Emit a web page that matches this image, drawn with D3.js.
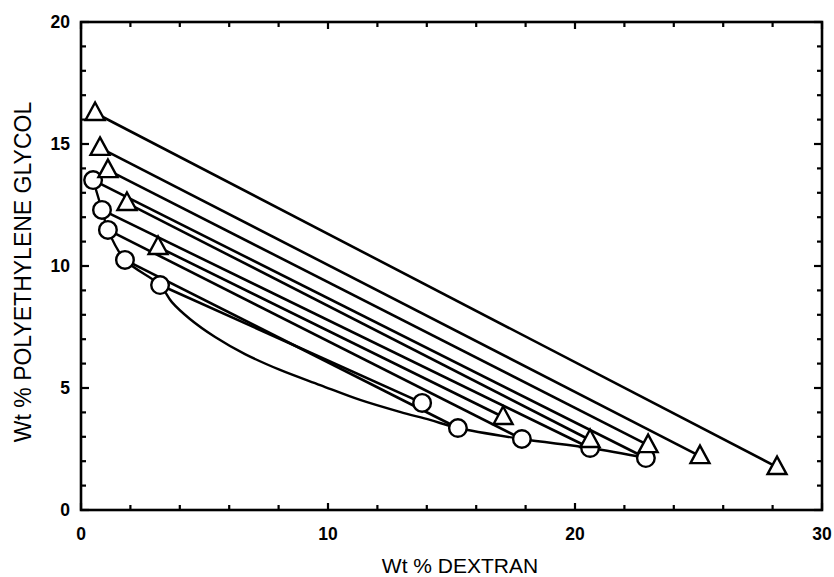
<!DOCTYPE html>
<html>
<head>
<meta charset="utf-8">
<script src="https://cdn.jsdelivr.net/npm/d3@7"></script>
<style>
  html, body { margin: 0; padding: 0; background: #fff; }
  svg { display: block; }
</style>
</head>
<body>
<svg id="chart" width="834" height="577"></svg>
<script>
// ---- data (Wt % dextran, Wt % PEG) ----
const triTopDextran = [0.57, 0.77, 1.09, 1.86, 3.12];
const triTopPEG     = [16.27, 14.84, 13.93, 12.58, 10.78];
const triBotDextran = [28.18, 25.06, 22.96, 20.61, 17.09];
const triBotPEG     = [1.76, 2.21, 2.66, 2.87, 3.81];

const circTopDextran = [0.49, 0.85, 1.09, 1.78, 3.20];
const circTopPEG     = [13.52, 12.30, 11.48, 10.25, 9.22];
const circBotDextran = [22.87, 20.61, 17.85, 15.26, 13.81];
const circBotPEG     = [2.13, 2.54, 2.91, 3.36, 4.39];

const binodalDextran = [0.49, 0.85, 1.09, 1.78, 3.20, 3.68, 4.41, 5.43, 6.64, 8.06, 9.68, 11.30, 12.91, 14.13, 15.26, 17.85, 20.61, 22.87];
const binodalPEG     = [13.52, 12.30, 11.48, 10.25, 9.22, 8.52, 7.83, 7.09, 6.39, 5.74, 5.12, 4.51, 4.02, 3.69, 3.36, 2.91, 2.54, 2.13];

const xTickLabels = [0, 10, 20, 30];
const yTickLabels = [0, 5, 10, 15, 20];
const xTitle = "Wt % DEXTRAN";
const yTitle = "Wt % POLYETHYLENE GLYCOL";

(function () {
// ---- layout ----
const svg = d3.select("#chart");
const pLeft = 81, pRight = 822, pTop = 22, pBottom = 510;
const x = d3.scaleLinear().domain([0, 30]).range([pLeft, pRight]);
const y = d3.scaleLinear().domain([0, 20]).range([pBottom, pTop]);

const font = "'Liberation Sans', Arial, Helvetica, sans-serif";
const g = svg.append("g");

// ---- ticks (inward on all four sides) ----
const xMinor = d3.range(0, 31, 2);
const yMinor = d3.range(0, 21, 1);
const tickG = g.append("g").attr("stroke", "#000").attr("stroke-width", 2.2);
xMinor.forEach(v => {
  const len = (v % 10 === 0) ? 7 : 5;
  tickG.append("line").attr("x1", x(v)).attr("x2", x(v)).attr("y1", y(0)).attr("y2", y(0) - len);
  tickG.append("line").attr("x1", x(v)).attr("x2", x(v)).attr("y1", y(20)).attr("y2", y(20) + len);
});
yMinor.forEach(v => {
  const len = (v % 5 === 0) ? 8 : 5;
  tickG.append("line").attr("y1", y(v)).attr("y2", y(v)).attr("x1", x(0)).attr("x2", x(0) + len);
  tickG.append("line").attr("y1", y(v)).attr("y2", y(v)).attr("x1", x(30)).attr("x2", x(30) - len);
});

// ---- frame ----
g.append("rect")
  .attr("x", x(0)).attr("y", y(20))
  .attr("width", x(30) - x(0)).attr("height", y(0) - y(20))
  .attr("fill", "none").attr("stroke", "#000").attr("stroke-width", 2.6);

// ---- tick labels ----
g.selectAll(".xl").data(xTickLabels).enter().append("text")
  .attr("x", d => x(d)).attr("y", 540)
  .attr("text-anchor", "middle")
  .attr("font-family", font).attr("font-weight", "bold").attr("font-size", 17.5)
  .text(d => d);
g.selectAll(".yl").data(yTickLabels).enter().append("text")
  .attr("x", 70).attr("y", d => y(d) + 6)
  .attr("text-anchor", "end")
  .attr("font-family", font).attr("font-weight", "bold").attr("font-size", 17.5)
  .text(d => d);

// ---- axis titles ----
g.append("text")
  .attr("x", 460).attr("y", 573)
  .attr("text-anchor", "middle")
  .attr("font-family", font).attr("font-size", 21)
  .text(xTitle);
g.append("text")
  .attr("transform", "translate(31,272) rotate(-90)")
  .attr("text-anchor", "middle")
  .attr("font-family", font).attr("font-size", 23)
  .text(yTitle);

// ---- binodal curve ----
const binodal = binodalDextran.map((d, i) => [d, binodalPEG[i]]);
g.append("path")
  .datum(binodal)
  .attr("fill", "none").attr("stroke", "#000").attr("stroke-width", 2.4)
  .attr("d", d3.line().x(d => x(d[0])).y(d => y(d[1])).curve(d3.curveCatmullRom.alpha(0.5)));

// ---- tie lines ----
const triTies = triTopDextran.map((d, i) => ({x1: d, y1: triTopPEG[i], x2: triBotDextran[i], y2: triBotPEG[i]}));
const circTies = circTopDextran.map((d, i) => ({x1: d, y1: circTopPEG[i], x2: circBotDextran[i], y2: circBotPEG[i]}));
g.selectAll(".tie").data(triTies.concat(circTies)).enter().append("line")
  .attr("x1", d => x(d.x1)).attr("y1", d => y(d.y1))
  .attr("x2", d => x(d.x2)).attr("y2", d => y(d.y2))
  .attr("stroke", "#000").attr("stroke-width", 2.6);

// ---- circle markers ----
const circPts = circTopDextran.map((d, i) => [d, circTopPEG[i]])
  .concat(circBotDextran.map((d, i) => [d, circBotPEG[i]]));
g.selectAll(".circ").data(circPts).enter().append("circle")
  .attr("cx", d => x(d[0])).attr("cy", d => y(d[1])).attr("r", 8.8)
  .attr("fill", "#fff").attr("stroke", "#000").attr("stroke-width", 2.4);

// ---- triangle markers ----
const triPts = triTopDextran.map((d, i) => [d, triTopPEG[i]])
  .concat(triBotDextran.map((d, i) => [d, triBotPEG[i]]));
g.selectAll(".tri").data(triPts).enter().append("path")
  .attr("transform", d => `translate(${x(d[0])},${y(d[1])})`)
  .attr("d", "M0,-10.5L9.5,7L-9.5,7Z")
  .attr("fill", "#fff").attr("stroke", "#000").attr("stroke-width", 2.4)
  .attr("stroke-linejoin", "miter");
})();
</script>
</body>
</html>
